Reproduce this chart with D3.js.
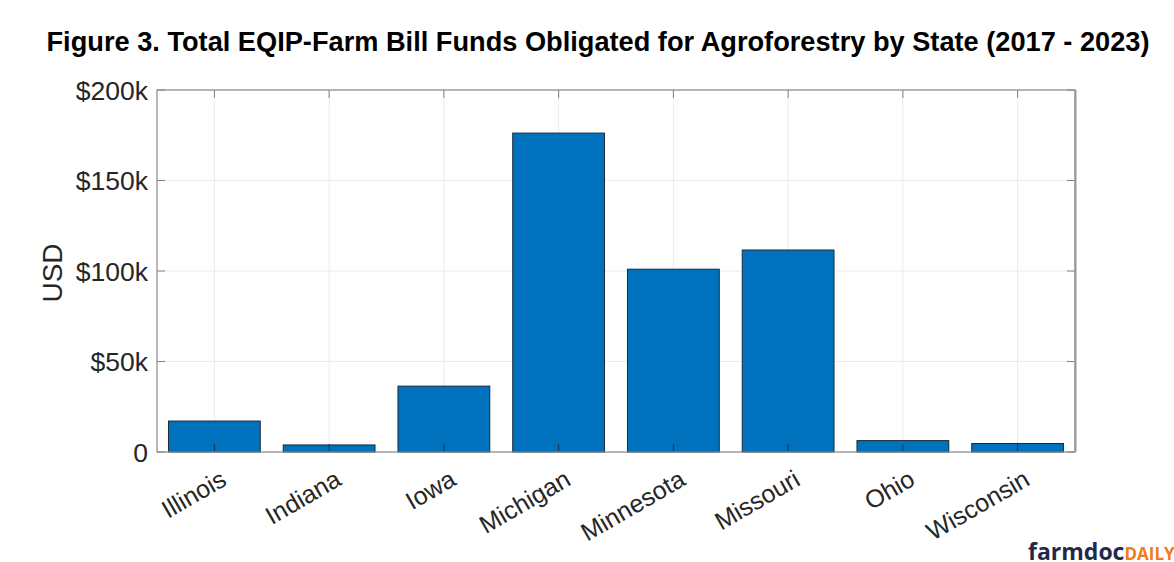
<!DOCTYPE html>
<html><head><meta charset="utf-8">
<script src="https://cdn.jsdelivr.net/npm/d3@7"></script>
<style>body{margin:0;background:#fff;overflow:hidden}svg{display:block;font-family:"Liberation Sans",Arial,sans-serif}</style>
</head><body><svg id="c" width="1174" height="562"></svg>
<script>
const states = ["Illinois","Indiana","Iowa","Michigan","Minnesota","Missouri","Ohio","Wisconsin"];
const funds = [17100, 3900, 36400, 176200, 101000, 111600, 6300, 4700];
const yTicks = [0, 50000, 100000, 150000, 200000];
const yTickLabels = ["0", "$50k", "$100k", "$150k", "$200k"];

const svg = d3.select("#c");
const L = 157, R = 1075, T = 90, B = 452;
const x = d3.scaleBand().domain(states).range([L, R]).paddingInner(0.2).paddingOuter(0.1);
const xc = d3.scaleBand().domain(states).range([L, R]);
const y = d3.scaleLinear().domain([0, 200000]).range([B, T]);

// grid
const g = svg.append("g");
g.selectAll(".vg").data(states).join("line")
  .attr("x1", d => xc(d) + xc.bandwidth()/2).attr("x2", d => xc(d) + xc.bandwidth()/2)
  .attr("y1", T).attr("y2", B).attr("stroke", "#ebebeb").attr("stroke-width", 1);
g.selectAll(".hg").data(yTicks).join("line")
  .attr("x1", L).attr("x2", R).attr("y1", d => y(d)).attr("y2", d => y(d))
  .attr("stroke", "#ebebeb").attr("stroke-width", 1);

// bars
svg.selectAll(".bar").data(states).join("rect")
  .attr("x", d => x(d)).attr("width", x.bandwidth())
  .attr("y", (d,i) => y(funds[i])).attr("height", (d,i) => B - y(funds[i]))
  .attr("fill", "#0072BD").attr("stroke", "#1a2a3a").attr("stroke-width", 1);

// tick marks (inside, both sides)
const tk = svg.append("g").attr("stroke-width", 1);
states.forEach(d => {
  const cx = xc(d) + xc.bandwidth()/2;
  tk.append("line").attr("x1", cx).attr("x2", cx).attr("y1", B).attr("y2", B - 8).attr("stroke", "#1a3550");
  tk.append("line").attr("x1", cx).attr("x2", cx).attr("y1", T).attr("y2", T + 8).attr("stroke", "#808080");
});
yTicks.forEach(v => {
  tk.append("line").attr("x1", L).attr("x2", L + 8).attr("y1", y(v)).attr("y2", y(v)).attr("stroke", "#808080");
  tk.append("line").attr("x1", R).attr("x2", R - 8).attr("y1", y(v)).attr("y2", y(v)).attr("stroke", "#808080");
});

// box
svg.append("rect").attr("x", L).attr("y", T).attr("width", R - L).attr("height", B - T)
  .attr("fill", "none").attr("stroke", "#8a8a8a").attr("stroke-width", 1.2);
svg.append("line").attr("x1", R + 0.5).attr("x2", R + 0.5).attr("y1", T).attr("y2", B)
  .attr("stroke", "#9a9a9a").attr("stroke-width", 2);

// y labels
svg.selectAll(".yl").data(yTicks).join("text")
  .attr("x", L - 9).attr("y", d => y(d)).attr("dy", "0.36em")
  .attr("text-anchor", "end").attr("font-size", 26.5).attr("fill", "#262626")
  .text((d,i) => yTickLabels[i]);

// x labels rotated
svg.selectAll(".xl").data(states).join("text")
  .attr("transform", d => `translate(${xc(d) + xc.bandwidth()/2 + 5},${B + 17}) rotate(-30)`)
  .attr("text-anchor", "end").attr("dy", "0.7em").attr("font-size", 25).attr("fill", "#262626")
  .text(d => d);

// axis title
svg.append("text").attr("transform", `translate(62,${(T + B)/2 + 2}) rotate(-90)`)
  .attr("text-anchor", "middle").attr("font-size", 28).attr("fill", "#262626").text("USD");

// title
svg.append("text").attr("x", 598).attr("y", 51).attr("text-anchor", "middle")
  .attr("font-size", 27).attr("font-weight", "bold").attr("fill", "#000")
  .attr("textLength", 1103).attr("lengthAdjust", "spacingAndGlyphs")
  .text("Figure 3. Total EQIP-Farm Bill Funds Obligated for Agroforestry by State (2017 - 2023)");

// logo
const lg = svg.append("text").attr("x", 1028).attr("y", 560).attr("font-size", 23).attr("font-weight", "bold")
  .attr("font-family", "'Open Sans', sans-serif");
lg.append("tspan").attr("fill", "#1f2a4a").text("farmdoc");
lg.append("tspan").attr("fill", "#f07c1e").attr("font-size", 17).text("DAILY");
</script></body></html>
